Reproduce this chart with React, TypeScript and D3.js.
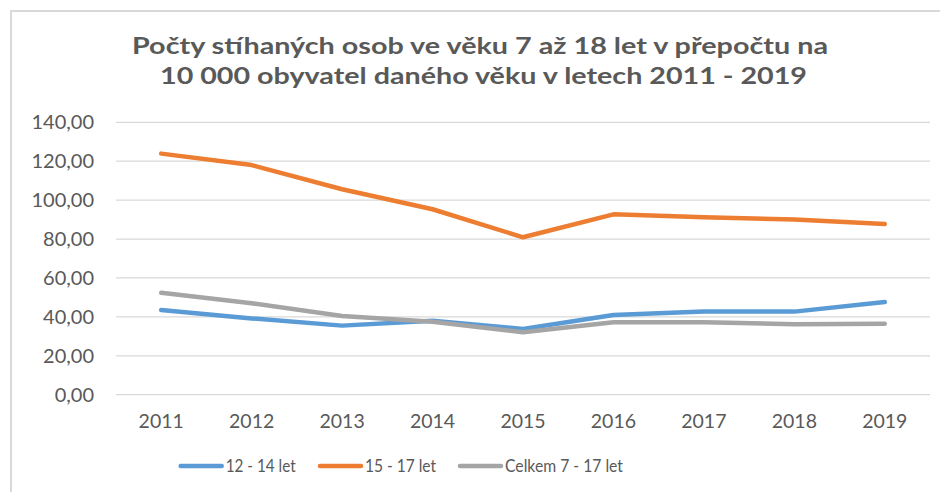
import React from "react";
import * as d3 from "d3";

const years = ["2011", "2012", "2013", "2014", "2015", "2016", "2017", "2018", "2019"];
const s12_14 = [43.5, 39.2, 35.5, 38.0, 33.8, 41.0, 42.7, 42.7, 47.6];
const s15_17 = [123.9, 118.0, 105.6, 95.3, 80.9, 92.7, 91.2, 90.1, 87.7];
const sTotal = [52.4, 47.0, 40.4, 37.5, 32.1, 37.2, 37.2, 36.2, 36.5];
const seriesNames = ["12 - 14 let", "15 - 17 let", "Celkem 7 - 17 let"];
const seriesColors = ["#5B9BD5", "#ED7D31", "#A5A5A5"];
const yTicks = [0, 20, 40, 60, 80, 100, 120, 140];
const titleLines = [
  "Počty stíhaných osob ve věku 7 až 18 let v přepočtu na",
  "10 000 obyvatel daného věku v letech 2011 - 2019",
];

const W = 940;
const H = 492;
const FONT = "Lato, 'Open Sans', sans-serif";
const TEXT = "#595959";

export default function App() {
  const x = d3.scaleBand<string>().domain(years).range([116, 930]);
  const y = d3.scaleLinear().domain([0, 140]).range([394.7, 122.3]);
  const line = d3
    .line<number>()
    .x((_, i) => (x(years[i]) as number) + x.bandwidth() / 2)
    .y((d) => y(d));
  const all = [s12_14, s15_17, sTotal];
  const fmt = (v: number) => v.toFixed(2).replace(".", ",");
  const legendX = [180.7, 320, 460];
  const titleX = [132, 160];
  const titleLen = [696, 647];
  const titleY = [54, 84];

  return (
    <div style={{ position: "fixed", left: 0, top: 0, width: W, height: H, background: "#fff" }}>
      <svg width={W} height={H} style={{ display: "block" }}>
        <rect x={0} y={0} width={W} height={H} fill="#fff" />
        <line x1={10} x2={W} y1={11} y2={11} stroke="#d9d9d9" strokeWidth={2} />
        <line x1={11} x2={11} y1={10} y2={H} stroke="#d9d9d9" strokeWidth={2} />
        {titleLines.map((t, i) => (
          <text
            key={i}
            x={titleX[i]}
            y={titleY[i]}
            textLength={titleLen[i]}
            lengthAdjust="spacingAndGlyphs"
            fontFamily={FONT}
            fontWeight={700}
            fontSize={22}
            fill={TEXT}
          >
            {t}
          </text>
        ))}
        {yTicks.map((t) => (
          <g key={t}>
            <line x1={116} x2={930} y1={y(t)} y2={y(t)} stroke="#d9d9d9" strokeWidth={1.3} />
            <text
              x={94}
              y={y(t)}
              dy="0.35em"
              textAnchor="end"
              fontFamily={FONT}
              fontSize={20}
              fill={TEXT}
            >
              {fmt(t)}
            </text>
          </g>
        ))}
        {years.map((yr) => (
          <text
            key={yr}
            x={(x(yr) as number) + x.bandwidth() / 2}
            y={428}
            textAnchor="middle"
            fontFamily={FONT}
            fontSize={19.5}
            fill={TEXT}
          >
            {yr}
          </text>
        ))}
        {all.map((s, i) => (
          <path
            key={i}
            d={line(s) as string}
            fill="none"
            stroke={seriesColors[i]}
            strokeWidth={4.5}
            strokeLinecap="round"
            strokeLinejoin="round"
          />
        ))}
        {seriesNames.map((n, i) => (
          <g key={n}>
            <line
              x1={legendX[i]}
              x2={legendX[i] + 41}
              y1={466}
              y2={466}
              stroke={seriesColors[i]}
              strokeWidth={4.5}
              strokeLinecap="round"
            />
            <text
              x={legendX[i] + 45}
              y={466}
              dy="0.35em"
              fontFamily={FONT}
              fontSize={17}
              textLength={[70, 71, 118][i]}
              lengthAdjust="spacingAndGlyphs"
              fill={TEXT}
            >
              {n}
            </text>
          </g>
        ))}
      </svg>
    </div>
  );
}
